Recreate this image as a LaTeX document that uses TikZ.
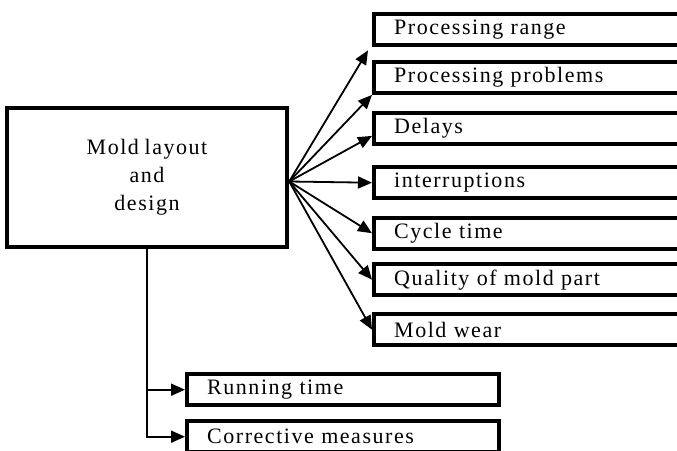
\documentclass[tikz,border=0pt]{standalone}
\usepackage{fontspec}
\setmainfont[LetterSpace=7,WordSpace=0.8]{Liberation Serif}
\usetikzlibrary{arrows.meta,calc}

\tikzset{
  every node/.style={font=\fontsize{22}{28}\selectfont},
  mainbox/.style={draw, line width=4.4pt, minimum width=280pt, minimum height=139pt,
    align=center, inner sep=0pt},
  rbox/.style={draw, line width=4.4pt, anchor=north west, minimum height=31pt,
    text width=300pt, inner xsep=20pt, inner ysep=0pt, align=left},
  bbox/.style={draw, line width=4.4pt, anchor=north west, minimum height=31pt,
    text width=272pt, inner xsep=20pt, inner ysep=0pt, align=left},
  link/.style={line width=1.8pt, -{Triangle[length=14pt,width=12pt]}},
}

\begin{document}
\begin{tikzpicture}[x=1pt,y=-1pt]
  \useasboundingbox (0,0) rectangle (677,450);
  \clip (0,0) rectangle (677,450);

  % central box
  \node[mainbox] (main) at (147,177.5) {Mold layout\\and\\design};

  % effects on the right
  \node[rbox] (r1) at (372,12)  {Processing range};
  \node[rbox] (r2) at (372,59.5)  {Processing problems};
  \node[rbox] (r3) at (372,110.5) {Delays};
  \node[rbox] (r4) at (372,165) {interruptions};
  \node[rbox] (r5) at (372,215.5) {Cycle time};
  \node[rbox] (r6) at (372,262) {Quality of mold part};
  \node[rbox] (r7) at (372,312) {Mold wear};

  % boxes below
  \node[bbox] (b1) at (185,372) {Running time};
  \node[bbox] (b2) at (185,419) {Corrective measures};

  % fan of arrows
  \coordinate (fan) at ($(main.east)+(0,4)$);
  \draw[link] (fan) -- ($(r1.south west)+(-4,3)$);
  \draw[link] (fan) -- (r2.south west);
  \draw[link] (fan) -- ($(r3.south west)+(0,-10)$);
  \draw[link] (fan) -- (r4.west);
  \draw[link] (fan) -- (r5.west);
  \draw[link] (fan) -- (r6.west);
  \draw[link] (fan) -- (r7.west);

  % branch down to the lower boxes
  \draw[link] (main.south) -- (main.south |- b2.west) -- (b2.west);
  \draw[link] (main.south |- b1.west) -- (b1.west);
\end{tikzpicture}
\end{document}
